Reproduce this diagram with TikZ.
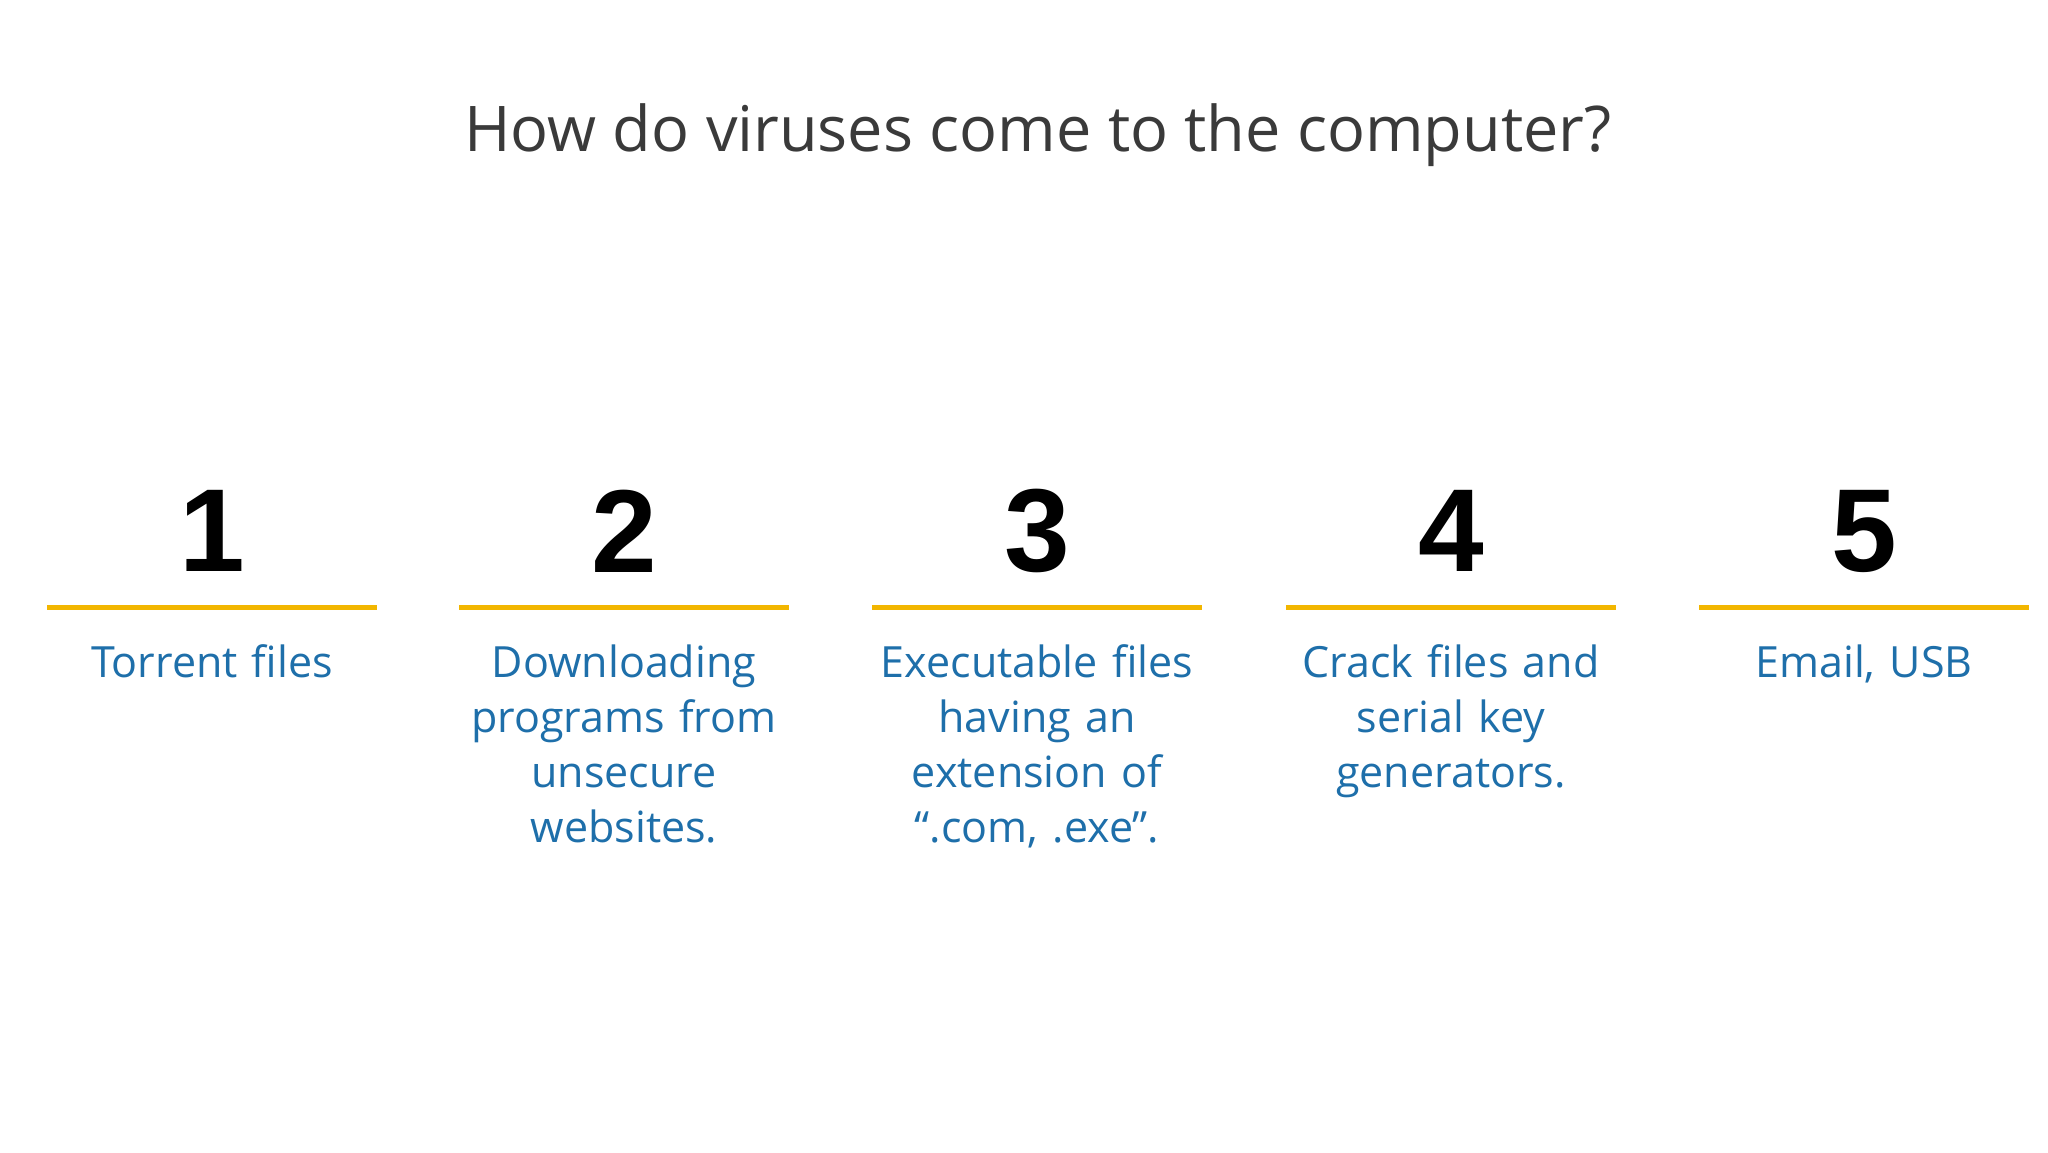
\documentclass[tikz,border=0pt]{standalone}
\usepackage{fontspec}
\setmainfont{Open Sans}
\newfontfamily\numfont{Liberation Sans}
\definecolor{gold}{HTML}{F2B600}
\definecolor{txtblue}{HTML}{1E6FAA}
\definecolor{ttl}{HTML}{3A3A3A}
\begin{document}
\begin{tikzpicture}[x=1pt,y=-1pt,
  num/.style={font=\numfont\bfseries\fontsize{118}{118}\selectfont, anchor=center},
  item/.style={font=\fontsize{43}{55}\selectfont, text=txtblue, align=center, anchor=north, text width=340pt},
  bar/.style={draw=gold, line width=5pt}]
\fill[white] (0,0) rectangle (2048,1152);
\useasboundingbox (0,0) rectangle (2048,1152);
\node[font=\fontsize{63}{63}\selectfont, text=ttl] (title) at (1038,135) {How do viruses come to the computer?};
\foreach \i/\x/\t in {1/212/{Torrent files},2/624/{Downloading\\programs from\\unsecure\\websites.},3/1037/{Executable files\\having an\\extension of\\\textquotedblleft.com, .exe\textquotedblright.},4/1451/{Crack files and\\serial key\\generators.},5/1864/{Email, USB}}{
  \node[num] (n\i) at (\x,531) {\i};
  \coordinate (l\i) at (\x-165,607);
  \coordinate (r\i) at (\x+165,607);
  \draw[bar] (l\i) -- (r\i);
  \node[item] (t\i) at (\x,641) {\t};
}
\end{tikzpicture}
\end{document}
